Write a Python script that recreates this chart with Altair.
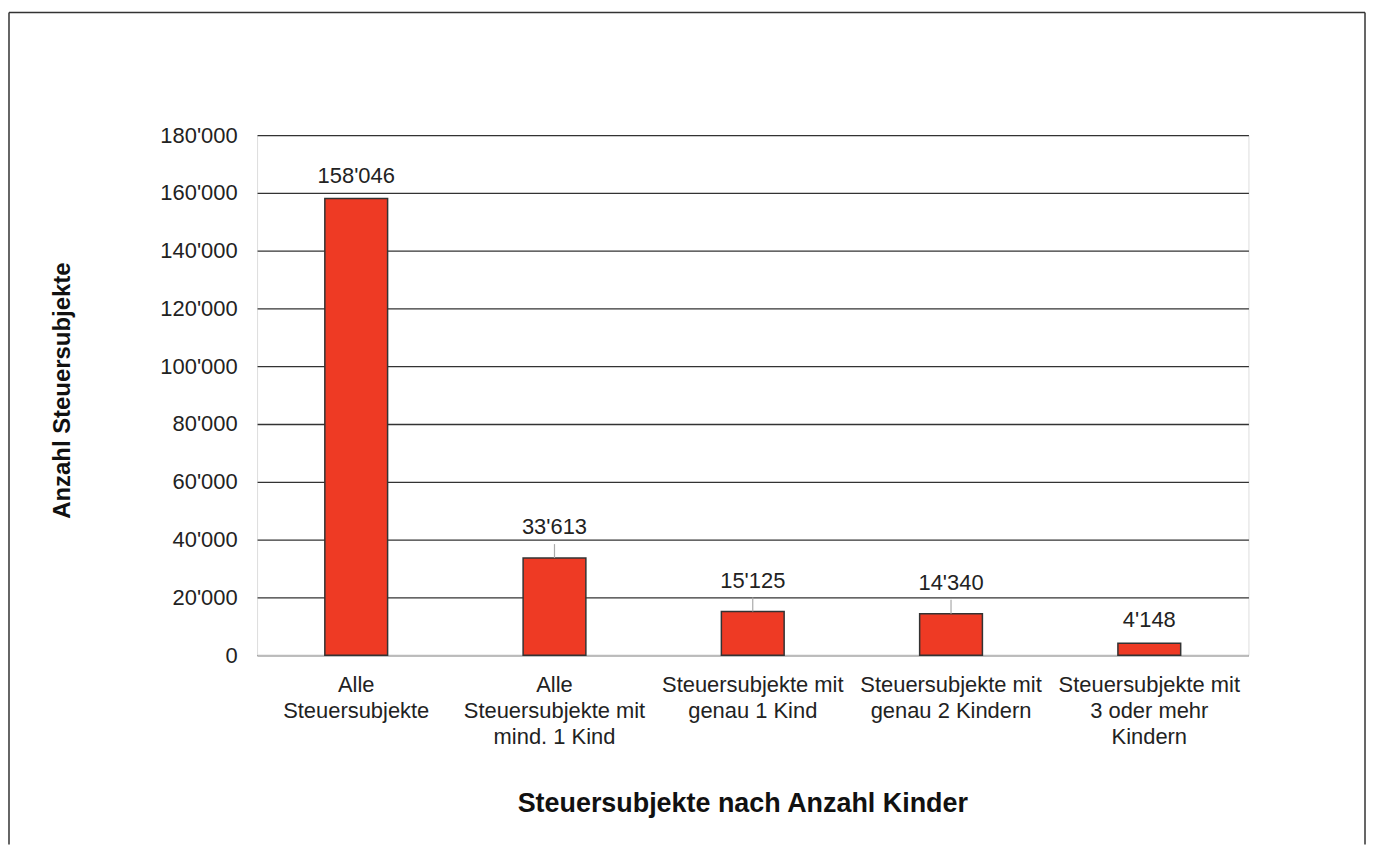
import altair as alt
import pandas as pd

categories = [
    "Alle\nSteuersubjekte",
    "Alle\nSteuersubjekte mit\nmind. 1 Kind",
    "Steuersubjekte mit\ngenau 1 Kind",
    "Steuersubjekte mit\ngenau 2 Kindern",
    "Steuersubjekte mit\n3 oder mehr\nKindern",
]
values = [158046, 33613, 15125, 14340, 4148]
has_leader = [False, True, True, True, False]
y_ticks = list(range(0, 180001, 20000))

df = pd.DataFrame({"cat": categories, "val": values, "leader": has_leader})

FONT = "Liberation Sans"
W, H = 995, 522

x_enc = alt.X(
    "cat:N",
    sort=categories,
    scale=alt.Scale(paddingInner=0, paddingOuter=0),
    axis=alt.Axis(
        title="Steuersubjekte nach Anzahl Kinder",
        titleFont=FONT, titleFontSize=27, titleFontWeight="bold", titleColor="#111",
        titlePadding=43, titleX=487,
        labelExpr="split(datum.label, '\\n')",
        labelAngle=0, labelFont=FONT, labelFontSize=22, labelColor="#222",
        labelLineHeight=26.5, labelPadding=19, labelBaseline="top", labelLimit=400,
        ticks=False, domain=True, domainColor="#bbbbbb", domainWidth=2,
        grid=False,
    ),
)
y_scale = alt.Scale(domain=[0, 180000], nice=False)
y_enc = alt.Y(
    "val:Q",
    scale=y_scale,
    axis=alt.Axis(
        title="Anzahl Steuersubjekte",
        titleFont=FONT, titleFontSize=24, titleFontWeight="bold", titleColor="#111",
        titlePadding=86, titleY=256,
        values=y_ticks, format=",.0f",
        labelFont=FONT, labelFontSize=22, labelColor="#222", labelPadding=20,
        ticks=False, domain=False,
        grid=True, gridColor="#333333", gridWidth=1.3,
    ),
)

base = alt.Chart(df)

bars = base.mark_bar(size=63, color="#ee3a24", stroke="#333333", strokeWidth=1.5).encode(
    x=x_enc, y=y_enc
)

lab_plain = base.transform_filter("!datum.leader").mark_text(
    dy=-23, font=FONT, fontSize=22, color="#222"
).encode(x=alt.X("cat:N", sort=categories), y=alt.Y("val:Q", scale=y_scale),
         text=alt.Text("val:Q", format=",.0f"))

lab_lead = base.transform_filter("datum.leader").mark_text(
    dy=-31, font=FONT, fontSize=22, color="#222"
).encode(x=alt.X("cat:N", sort=categories), y=alt.Y("val:Q", scale=y_scale),
         text=alt.Text("val:Q", format=",.0f"))

leaders = base.transform_filter("datum.leader").mark_rule(
    color="#aaaaaa", strokeWidth=1.2, y2Offset=-14
).encode(x=alt.X("cat:N", sort=categories), y=alt.Y("val:Q", scale=y_scale), y2="val:Q")

# Outer frame (left, top, right edges)
frame_l = alt.Chart().mark_rule(color="#333333", strokeWidth=1.5).encode(
    x=alt.value(-249), y=alt.value(-123), y2=alt.value(712))
frame_t = alt.Chart().mark_rule(color="#333333", strokeWidth=1.5).encode(
    x=alt.value(-249), x2=alt.value(1112), y=alt.value(-123))
frame_r = alt.Chart().mark_rule(color="#333333", strokeWidth=1.5).encode(
    x=alt.value(1112), y=alt.value(-123), y2=alt.value(712))

chart = alt.layer(bars, leaders, lab_plain, lab_lead, frame_l, frame_t, frame_r).properties(
    width=W, height=H,
    padding={"left": 0, "top": 2, "right": 0, "bottom": 0},
).configure_view(
    stroke="#333333", strokeWidth=1.5
).configure(
    locale={"number": {"decimal": ".", "thousands": "'", "grouping": [3], "currency": ["", ""]}}
)

chart.save("out.html", embed_options={"renderer": "svg", "actions": False})
